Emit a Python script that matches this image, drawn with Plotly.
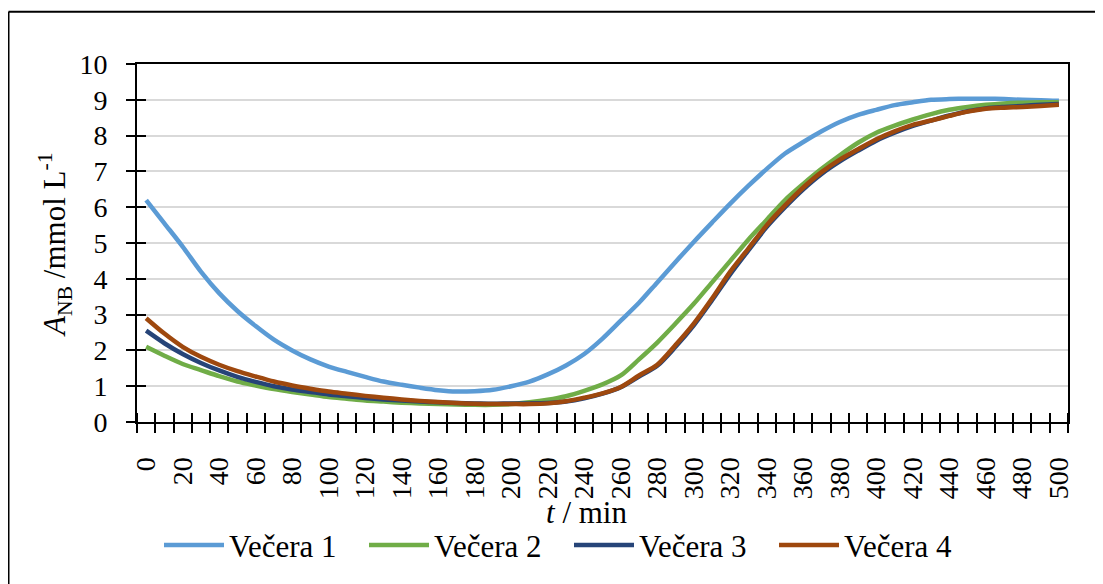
import plotly.graph_objects as go

t_min = list(range(0, 501, 10))
x_labels = list(range(0, 501, 20))
y_ticks = list(range(0, 11))

vecera1 = [6.2, 5.55, 4.9, 4.2, 3.6, 3.1, 2.68, 2.3, 2.0, 1.75,
           1.55, 1.4, 1.26, 1.13, 1.04, 0.96, 0.89, 0.85, 0.86, 0.9,
           1.0, 1.13, 1.33, 1.58, 1.9, 2.33, 2.83, 3.33, 3.9, 4.47,
           5.03, 5.57, 6.1, 6.6, 7.07, 7.5, 7.82, 8.12, 8.38, 8.58,
           8.72, 8.85, 8.93, 9.0, 9.02, 9.03, 9.03, 9.02, 9.0, 8.99, 8.97]
vecera2 = [2.1, 1.85, 1.62, 1.45, 1.28, 1.13, 1.02, 0.92, 0.84, 0.77,
           0.7, 0.65, 0.6, 0.57, 0.54, 0.52, 0.5, 0.49, 0.48, 0.48,
           0.5, 0.55, 0.62, 0.72, 0.87, 1.05, 1.3, 1.75, 2.22, 2.75,
           3.3, 3.9, 4.5, 5.1, 5.65, 6.2, 6.65, 7.07, 7.45, 7.8,
           8.08, 8.28, 8.45, 8.6, 8.72, 8.8, 8.86, 8.9, 8.92, 8.93, 8.93]
vecera3 = [2.55, 2.2, 1.9, 1.65, 1.44, 1.26, 1.12, 1.0, 0.91, 0.84,
           0.77, 0.72, 0.67, 0.63, 0.6, 0.57, 0.55, 0.53, 0.52, 0.51,
           0.52, 0.52, 0.53, 0.57, 0.66, 0.79, 0.97, 1.27, 1.57, 2.1,
           2.7, 3.4, 4.13, 4.8, 5.45, 6.0, 6.5, 6.93, 7.28, 7.58,
           7.86, 8.08, 8.27, 8.42, 8.56, 8.68, 8.76, 8.8, 8.83, 8.86, 8.88]
vecera4 = [2.9, 2.47, 2.1, 1.82, 1.6, 1.42, 1.27, 1.13, 1.02, 0.93,
           0.85, 0.79, 0.73, 0.68, 0.63, 0.59, 0.56, 0.53, 0.51, 0.5,
           0.5, 0.5, 0.52, 0.58, 0.68, 0.8, 0.98, 1.3, 1.6, 2.15,
           2.75, 3.45, 4.2, 4.85, 5.5, 6.05, 6.55, 6.98, 7.33, 7.62,
           7.9, 8.12, 8.3, 8.42, 8.55, 8.67, 8.75, 8.78, 8.8, 8.83, 8.86]

names = ["Večera 1", "Večera 2", "Večera 3", "Večera 4"]
series = [vecera1, vecera2, vecera3, vecera4]
colors = ["#5B9BD5", "#70AD47", "#264478", "#9E480E"]

FONT = "Liberation Serif"
FS = 28
FS_T = 31
fig = go.Figure()
for n, s, c in zip(names, series, colors):
    fig.add_trace(go.Scatter(
        x=t_min, y=s, mode="lines", name=n,
        line=dict(color=c, width=4.5, shape="spline", smoothing=0.8)))

# page has an 8px body margin: work in page pixels, convert to figure pixels
OFF = 8
W, H = 1103 - OFF, 584 - OFF
L, R, T, B = 137 - OFF, 1068 - OFF, 64 - OFF, 424 - OFF
pw, ph = R - L, B - T

def px(xp):
    return (xp - OFF - L) / pw

def py(yp):
    return (B - (yp - OFF)) / ph

fig.update_layout(
    width=W, height=H,
    margin=dict(l=L, r=W - R, t=T, b=H - B),
    paper_bgcolor="white", plot_bgcolor="white",
    font=dict(family=FONT, size=FS, color="black"),
    showlegend=True,
    legend=dict(orientation="h", x=px(569), xanchor="center", y=py(548), yanchor="middle",
                font=dict(family=FONT, size=FS_T, color="black"),
                entrywidth=130, entrywidthmode="pixels",
                itemwidth=60, bgcolor="rgba(0,0,0,0)"),
    xaxis=dict(range=[-5, 505], tickmode="array", tickvals=x_labels,
               ticktext=[str(v) for v in x_labels], tickangle=-90, ticks="",
               ticklabelstandoff=22,
               showgrid=False, zeroline=False, showline=True, linecolor="black",
               linewidth=2, mirror=True,
               minor=dict(ticks="outside", tick0=5, dtick=10, ticklen=9,
                          tickwidth=2, tickcolor="black", showgrid=False),
               tickfont=dict(family=FONT, size=FS)),
    xaxis2=dict(range=[-5, 505], overlaying="x", anchor="y", showticklabels=False,
                tickmode="array", tickvals=x_labels, ticks="", showgrid=False,
                zeroline=False, showline=False,
                minor=dict(ticks="inside", tick0=5, dtick=10, ticklen=9,
                           tickwidth=2, tickcolor="black", showgrid=False)),
    yaxis=dict(range=[0, 10], tickmode="array", tickvals=y_ticks, ticks="outside",
               ticklen=9, tickwidth=2, tickcolor="black", ticklabelstandoff=13,
               showgrid=True, gridcolor="#D9D9D9", gridwidth=1.5, zeroline=False,
               showline=True, linecolor="black", linewidth=2, mirror=True,
               tickfont=dict(family=FONT, size=FS)),
    yaxis2=dict(range=[0, 10], overlaying="y", anchor="x", showticklabels=False,
                tickmode="array", tickvals=y_ticks, ticks="inside", ticklen=9,
                tickwidth=2, tickcolor="black", showgrid=False, zeroline=False,
                showline=False),
    annotations=[
        dict(text="<i>t</i> / min", x=px(586), y=py(515), xref="paper", yref="paper",
             xanchor="center", yanchor="middle", showarrow=False,
             font=dict(family=FONT, size=FS_T)),
        dict(text="<i>A</i><sub>NB</sub> /mmol L<sup>-1</sup>", x=px(55), y=py(246),
             xref="paper", yref="paper", xanchor="center", yanchor="middle",
             textangle=-90, showarrow=False, font=dict(family=FONT, size=FS_T)),
    ],
    shapes=[
        dict(type="line", xref="paper", yref="paper", x0=px(8.5), x1=px(1110),
             y0=py(11.5), y1=py(11.5), line=dict(color="black", width=2)),
        dict(type="line", xref="paper", yref="paper", x0=px(8.5), x1=px(8.5),
             y0=py(11.5), y1=py(600), line=dict(color="black", width=2)),
    ],
)
fig.add_trace(go.Scatter(x=[None], y=[None], xaxis="x2", yaxis="y2", showlegend=False,
                         hoverinfo="skip"))

fig.write_html("out.html")
